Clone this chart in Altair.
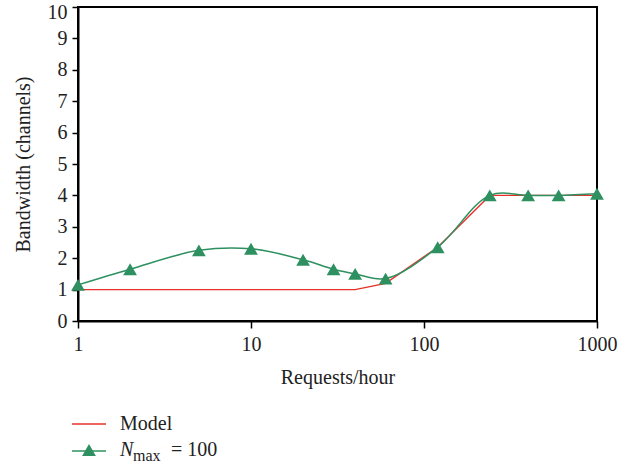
import altair as alt
import pandas as pd

# Measured bandwidth (N_max = 100) against request rate
req_sim = [1, 2, 5, 10, 20, 30, 40, 60, 120, 240, 400, 600, 1000]
bw_sim = [1.15, 1.65, 2.25, 2.3, 1.95, 1.65, 1.5, 1.35, 2.35, 4.0, 4.0, 4.0, 4.05]

# Analytical model
req_model = [1, 40, 60, 120, 240, 400, 600, 1000]
bw_model = [1.0, 1.0, 1.2, 2.35, 4.0, 4.0, 4.0, 4.0]

x_ticks = [1, 10, 100, 1000]
y_ticks = list(range(0, 11))

GREEN = "#2E9060"
RED = "#E8302A"
FONT = "Liberation Serif"
TXT = "#222222"

sim = pd.DataFrame({"req": req_sim, "bw": bw_sim})
model = pd.DataFrame({"req": req_model, "bw": bw_model})

xscale = alt.Scale(type="log", domain=[1, 1000], nice=False)
yscale = alt.Scale(domain=[0, 10], nice=False, zero=True)

x_axis = alt.Axis(values=x_ticks, tickCount=len(x_ticks), title="Requests/hour",
                  labelFont=FONT, titleFont=FONT,
                  labelFontSize=20, titleFontSize=20, titleFontWeight="normal",
                  labelColor=TXT, titleColor=TXT, domainColor="black", domainWidth=2,
                  tickColor="black", tickWidth=1.5, tickSize=7, labelPadding=6,
                  titlePadding=13, grid=False, labelFlush=False, labelOverlap=False,
                  format="d")
y_axis = alt.Axis(values=y_ticks, tickCount=len(y_ticks), title="Bandwidth (channels)",
                  labelFont=FONT, titleFont=FONT,
                  labelFontSize=20, titleFontSize=20, titleFontWeight="normal",
                  labelColor=TXT, titleColor=TXT, domainColor="black", domainWidth=2,
                  tickColor="black", tickWidth=1.5, tickSize=6, labelPadding=5,
                  # keep the top label inside the canvas
                  labelOffset={"condition": {"test": "datum.value == 10", "value": 5}, "value": 0},
                  titlePadding=14, grid=False, labelFlush=False, labelOverlap=False)

model_line = alt.Chart(model).mark_line(color=RED, strokeWidth=1.4).encode(
    x=alt.X("req:Q", scale=xscale, axis=x_axis),
    y=alt.Y("bw:Q", scale=yscale, axis=y_axis),
)

sim_line = alt.Chart(sim).mark_line(color=GREEN, strokeWidth=1.5, interpolate="catmull-rom").encode(
    x=alt.X("req:Q", scale=xscale),
    y=alt.Y("bw:Q", scale=yscale),
)

sim_pts = alt.Chart(sim).mark_point(shape="triangle-up", filled=True, color=GREEN,
                                    size=190, opacity=1).encode(
    x=alt.X("req:Q", scale=xscale),
    y=alt.Y("bw:Q", scale=yscale),
)

one = pd.DataFrame({"k": [0]})

# Legend below the plot
leg_red = alt.Chart(one).mark_rule(color=RED, strokeWidth=1.4).encode(
    x=alt.value(-6), x2=alt.value(28), y=alt.value(417))
leg_green = alt.Chart(one).mark_rule(color=GREEN, strokeWidth=1.5).encode(
    x=alt.value(-6), x2=alt.value(28), y=alt.value(444))
leg_tri = alt.Chart(one).mark_point(shape="triangle-up", filled=True, color=GREEN,
                                    size=190, opacity=1).encode(
    x=alt.value(11), y=alt.value(443))
leg_model = alt.Chart(one).mark_text(text="Model", font=FONT, fontSize=20, color=TXT,
                                     align="left", baseline="alphabetic").encode(
    x=alt.value(42), y=alt.value(423))
leg_n = alt.Chart(one).mark_text(text="N", font=FONT, fontSize=20, fontStyle="italic", color=TXT,
                                 align="left", baseline="alphabetic").encode(
    x=alt.value(42), y=alt.value(449))
leg_max = alt.Chart(one).mark_text(text="max", font=FONT, fontSize=16, color=TXT,
                                   align="left", baseline="alphabetic").encode(
    x=alt.value(55), y=alt.value(454))
leg_eq = alt.Chart(one).mark_text(text="= 100", font=FONT, fontSize=20, color=TXT,
                                  align="left", baseline="alphabetic").encode(
    x=alt.value(93), y=alt.value(449))

chart = alt.layer(
    model_line, sim_line, sim_pts,
    leg_red, leg_green, leg_tri, leg_model, leg_n, leg_max, leg_eq,
).properties(
    width=519, height=314,
    autosize=alt.AutoSizeParams(type="none"),
    padding={"left": 78, "top": 7, "right": 36, "bottom": 146},
    background="white",
).configure_view(
    stroke="black", strokeWidth=2,
)

chart.save("out.html", embed_options={"renderer": "svg", "actions": False})
